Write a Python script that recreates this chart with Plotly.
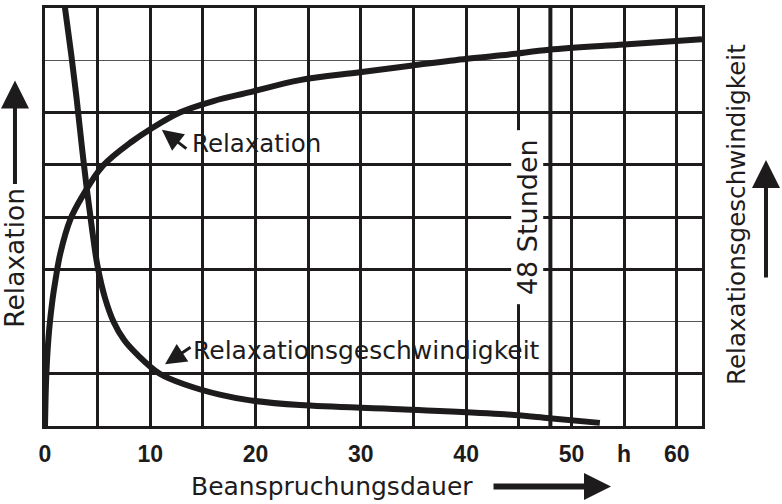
import plotly.graph_objects as go

# ---- data ----
relax_x = [0, 0.05, 0.15, 0.4, 0.7, 1.0, 1.45, 2.4, 3.5, 5.5, 8.3, 10.0, 12.8, 16.0, 19.5, 24.2, 29.9, 34.9, 40.1, 44.1, 47.9, 55.0, 62.4]
relax_y = [0, 0.5, 1.1, 1.85, 2.4, 2.8, 3.3, 3.95, 4.38, 4.98, 5.45, 5.68, 6.0, 6.22, 6.39, 6.62, 6.77, 6.90, 7.03, 7.11, 7.2, 7.3, 7.4]

rate_x = [1.8, 2.5, 3.04, 3.5, 4.0, 4.5, 5.0, 5.7, 6.5, 7.5, 8.7, 10.9, 13.5, 16.6, 19.5, 24.2, 33.7, 43.2, 47.9, 52.7]
rate_y = [8.15, 7.1, 6.2, 5.35, 4.49, 3.72, 3.05, 2.45, 2.0, 1.65, 1.38, 1.0, 0.78, 0.6, 0.49, 0.40, 0.32, 0.23, 0.15, 0.06]

x_tickvals = [0, 5, 10, 15, 20, 25, 30, 35, 40, 45, 50, 55, 60]
x_ticktext = ["0", "", "10", "", "20", "", "30", "", "40", "", "50", "h", "60"]
y_major = [1, 3, 4, 5, 6]
y_minor = [2, 7]
HOURS_48 = 48
X_MAX = 62.4
Y_MAX = 8

INK = "#1e1b1c"
FONT = "DejaVu Sans"

fig = go.Figure()
fig.add_trace(go.Scatter(x=relax_x, y=relax_y, mode="lines", line=dict(color=INK, width=6, shape="spline", smoothing=1.0),
                         hoverinfo="skip", showlegend=False))
fig.add_trace(go.Scatter(x=rate_x, y=rate_y, mode="lines", line=dict(color=INK, width=6, shape="spline", smoothing=1.0),
                         hoverinfo="skip", showlegend=False))

fig.add_shape(type="line", xref="x", yref="paper", x0=HOURS_48, x1=HOURS_48, y0=0, y1=1,
              line=dict(color=INK, width=4))

anns = []
# 48 Stunden label with white background
anns.append(dict(x=45.75, y=4.0, xref="x", yref="y", text=" 48 Stunden ", textangle=-90, showarrow=False,
                 font=dict(family=FONT, size=27, color=INK), bgcolor="white", borderpad=0,
                 xanchor="center", yanchor="middle"))
# curve labels
anns.append(dict(x=20.1, y=5.40, xref="x", yref="y", text="Relaxation", showarrow=False,
                 font=dict(family=FONT, size=24.5, color=INK), xanchor="center", yanchor="middle"))
anns.append(dict(x=11.1, y=5.67, xref="x", yref="y", text="", showarrow=True, ax=26, ay=20,
                 arrowhead=2, arrowsize=1.4, arrowwidth=3, arrowcolor=INK, standoff=0))
anns.append(dict(x=30.5, y=1.445, xref="x", yref="y", text="Relaxationsgeschwindigkeit", showarrow=False,
                 font=dict(family=FONT, size=25, color=INK), xanchor="center", yanchor="middle"))
anns.append(dict(x=11.4, y=1.18, xref="x", yref="y", text="", showarrow=True, ax=27, ay=-18,
                 arrowhead=2, arrowsize=1.4, arrowwidth=3, arrowcolor=INK, standoff=0))
# axis titles
anns.append(dict(x=0.4368, y=-0.1449, xref="paper", yref="paper", text="Beanspruchungsdauer", showarrow=False,
                 font=dict(family=FONT, size=25, color=INK), xanchor="center", yanchor="middle"))
anns.append(dict(x=0.8615, y=-0.1449, xref="paper", yref="paper", text="", showarrow=True, ax=-119, ay=0,
                 arrowhead=2, arrowsize=0.9, arrowwidth=6, arrowcolor=INK, standoff=0))
anns.append(dict(x=-0.0457, y=0.4026, xref="paper", yref="paper", text="Relaxation", textangle=-90, showarrow=False,
                 font=dict(family=FONT, size=26.5, color=INK), xanchor="center", yanchor="middle"))
anns.append(dict(x=-0.0457, y=0.8266, xref="paper", yref="paper", text="", showarrow=True, ax=0, ay=105,
                 arrowhead=2, arrowsize=1.4, arrowwidth=4, arrowcolor=INK, standoff=0))
anns.append(dict(x=1.0533, y=0.5048, xref="paper", yref="paper", text="Relaxationsgeschwindigkeit", textangle=-90,
                 showarrow=False, font=dict(family=FONT, size=24.6, color=INK), xanchor="center", yanchor="middle"))
anns.append(dict(x=1.0974, y=0.6366, xref="paper", yref="paper", text="", showarrow=True, ax=0, ay=119,
                 arrowhead=2, arrowsize=1.4, arrowwidth=4, arrowcolor=INK, standoff=0))

fig.update_layout(
    width=782, height=504,
    margin=dict(l=45, r=80, t=5, b=78),
    paper_bgcolor="white", plot_bgcolor="white",
    annotations=anns,
    showlegend=False,
    xaxis=dict(range=[0, X_MAX], tickmode="array", tickvals=x_tickvals, ticktext=x_ticktext,
               showgrid=True, gridcolor=INK, gridwidth=3, zeroline=False,
               showline=True, linecolor=INK, linewidth=3, mirror=True, ticks="",
               ticklabelstandoff=5,
               tickfont=dict(family="Liberation Sans", size=23, color=INK, weight="bold"), fixedrange=True),
    yaxis=dict(range=[0, Y_MAX], tickmode="array", tickvals=y_major, showticklabels=False,
               showgrid=True, gridcolor=INK, gridwidth=3, zeroline=False,
               showline=True, linecolor=INK, linewidth=3, mirror=True, ticks="",
               minor=dict(tickmode="array", tickvals=y_minor, showgrid=True, gridcolor="#555555", gridwidth=1, ticks=""),
               fixedrange=True),
)

fig.write_html("out.html", config={"displayModeBar": False},
               post_script="document.body.style.margin='0px';document.body.style.overflow='hidden';")
